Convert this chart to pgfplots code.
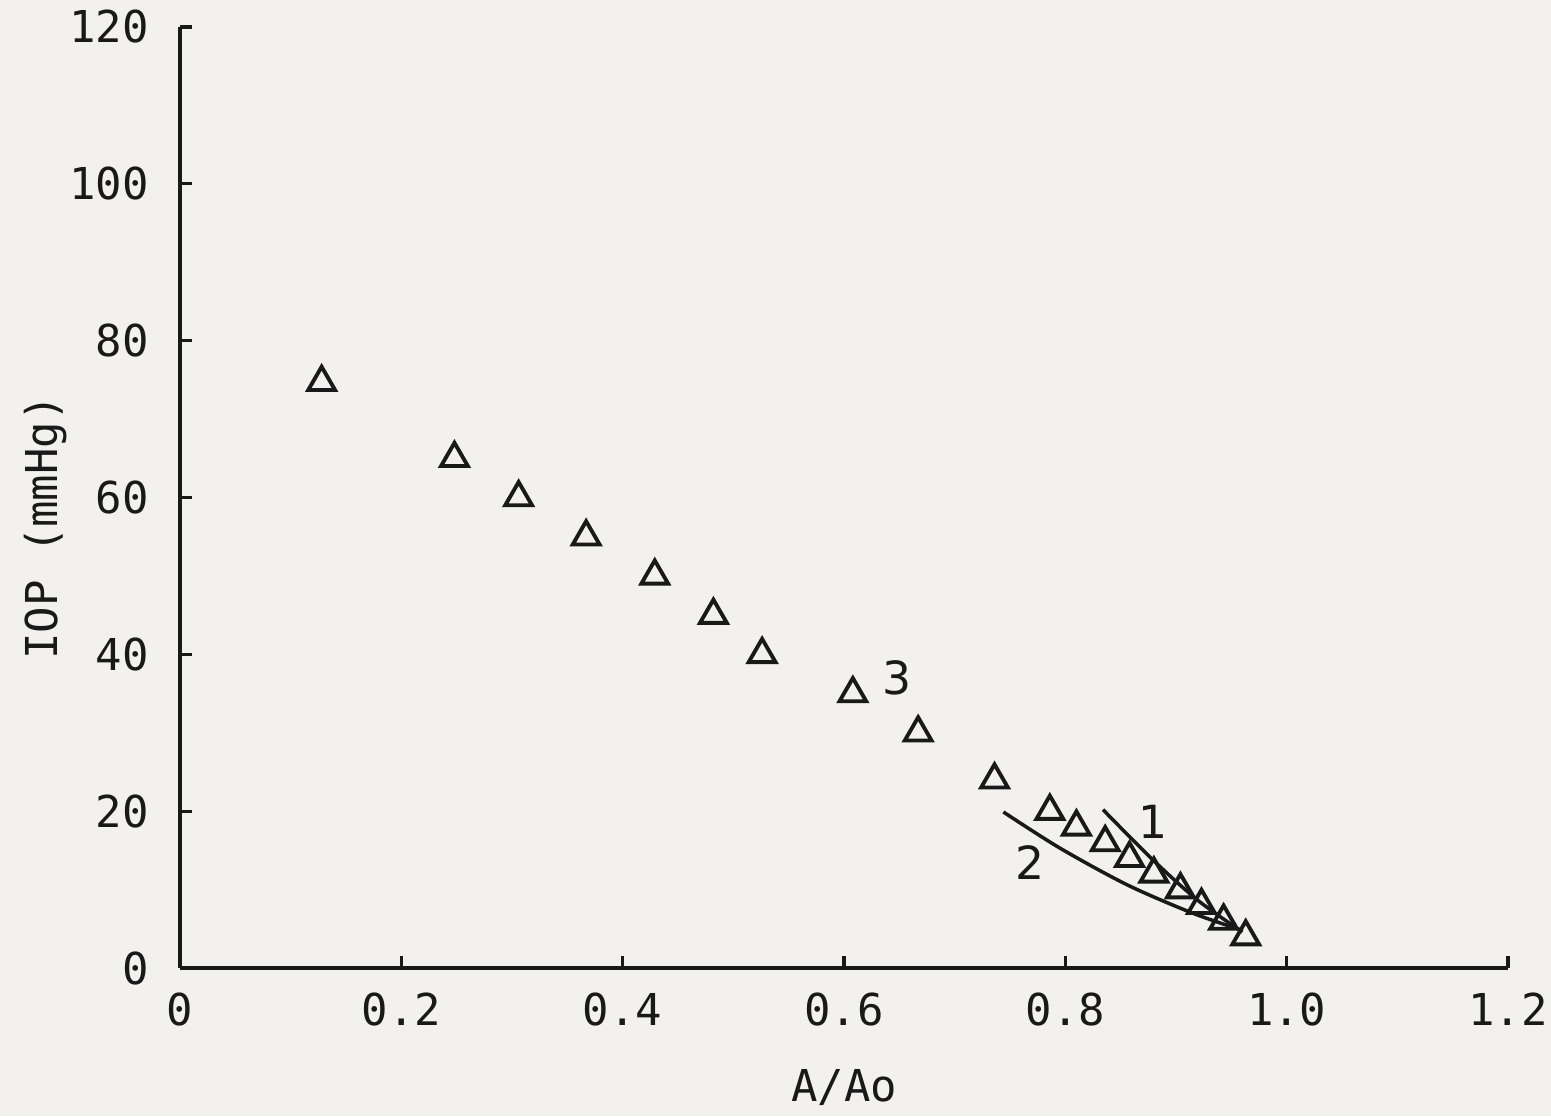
\documentclass[border=0pt]{standalone}
\usepackage{pgfplots}
\pgfplotsset{compat=1.18}
\usepackage{fontspec}
\newfontfamily\plotfont{DejaVu Sans Mono}
\newfontfamily\labfont{DejaVu Sans}
\definecolor{paper}{RGB}{242,241,237}
\definecolor{ink}{RGB}{25,25,25}
\begin{document}
\begin{tikzpicture}
\fill[paper] (-18mm,-14.8mm) rectangle (137.1mm,96.8mm);
\begin{axis}[
  name=ax, at={(0,0)}, anchor=south west,
  scale only axis, width=132.8mm, height=94.1mm,
  xmin=0, xmax=1.2, ymin=0, ymax=120,
  axis x line=bottom, axis y line=left,
  axis line style={-, ink, line width=0.9pt},
  tick style={ink, line width=0.9pt},
  tick align=inside, major tick length=1.2mm,
  xtick={0,0.2,0.4,0.6,0.8,1.0,1.2},
  xticklabels={0,0.2,0.4,0.6,0.8,1.0,1.2},
  ytick={0,20,40,60,80,100,120},
  yticklabels={0,20,40,60,80,100,120},
  ticklabel style={font=\plotfont\fontsize{12.5}{14}\selectfont, text=ink},
  xticklabel style={yshift=-1.2mm},
  yticklabel style={xshift=-1.9mm},
  xlabel={A/Ao}, ylabel={IOP (mmHg)},
  label style={font=\plotfont\fontsize{12.5}{14}\selectfont, text=ink},
  xlabel style={yshift=-2mm},
  ylabel style={yshift=-2.2mm, xshift=-3mm},
  clip=false,
]
\addplot[only marks, mark=triangle, mark size=4.4pt, ink, mark options={line width=1.1pt}] coordinates {
(0.128,74.7) (0.248,65) (0.306,60) (0.367,55) (0.429,50) (0.482,45)
(0.526,40) (0.608,35) (0.667,30) (0.736,24) (0.786,20) (0.810,18)
(0.836,16) (0.858,14) (0.880,12) (0.904,10) (0.923,8) (0.943,6) (0.963,4)
};
\addplot[ink, line width=1pt, smooth] coordinates {
(0.834,20.2) (0.879,13.8) (0.920,8.6) (0.960,4.6)
};
\addplot[ink, line width=1pt, smooth] coordinates {
(0.744,19.9) (0.795,15.3) (0.856,10.6) (0.915,7.0) (0.960,4.8)
};
\node[font=\labfont\fontsize{13}{15}\selectfont, text=ink] at (axis cs:0.879,18.6) {1};
\node[font=\labfont\fontsize{13}{15}\selectfont, text=ink] at (axis cs:0.768,13.5) {2};
\node[font=\labfont\fontsize{13}{15}\selectfont, text=ink] at (axis cs:0.648,37) {3};
\end{axis}
\pgfresetboundingbox
\path[use as bounding box] (-18mm,-14.8mm) rectangle (137.1mm,96.8mm);
\end{tikzpicture}
\end{document}
